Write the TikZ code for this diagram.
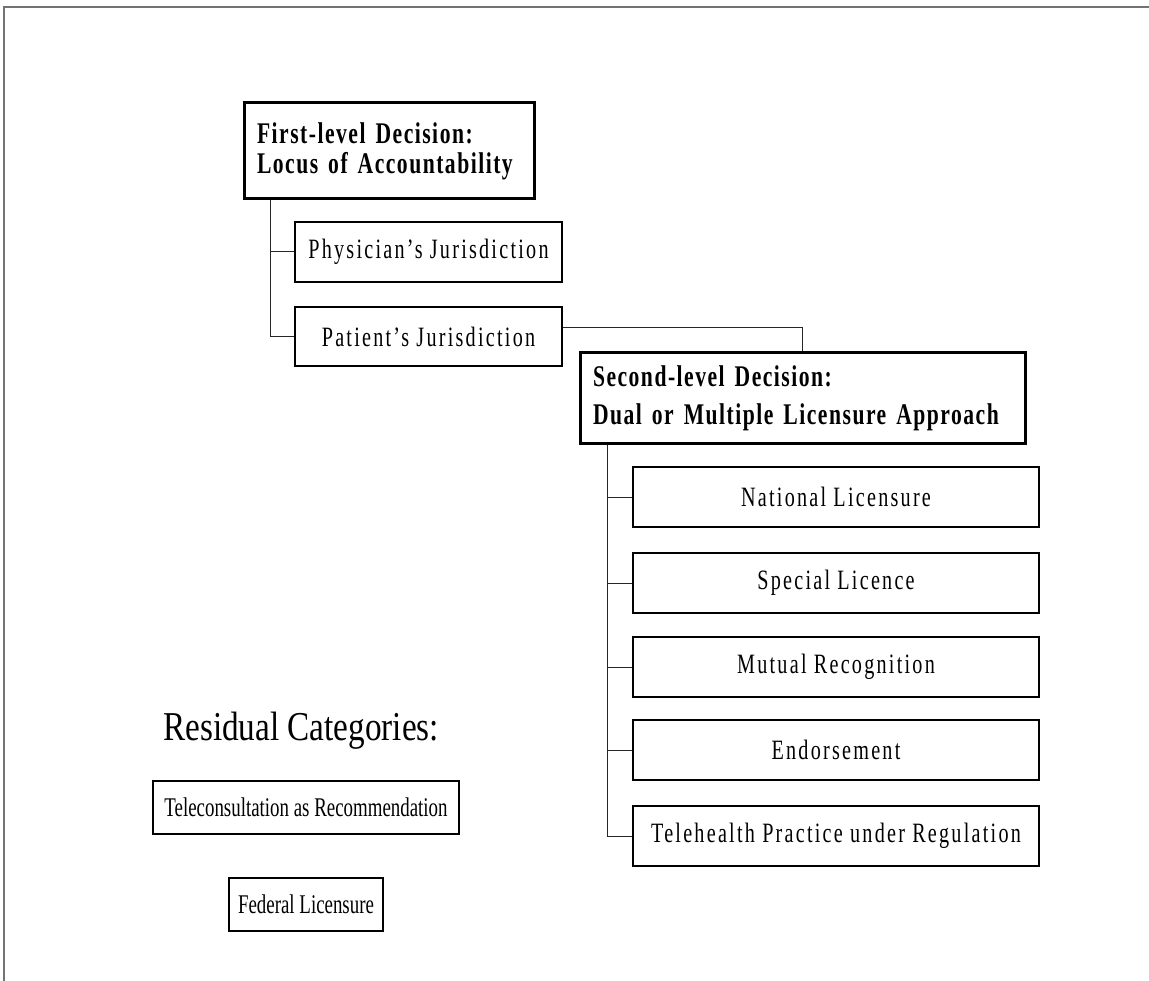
\documentclass[tikz,border=0pt]{standalone}
\usepackage{fontspec}
\setmainfont{Liberation Serif}
\newfontfamily\regfont[FakeStretch=0.72,LetterSpace=8]{Liberation Serif}
\newfontfamily\hdfont[FakeStretch=0.72,LetterSpace=5]{Liberation Serif}
\newfontfamily\resfont[FakeStretch=0.70]{Liberation Serif}
\newfontfamily\titfont[FakeStretch=0.81]{Liberation Serif}
\tikzset{
  decision/.style={draw, line width=3pt, align=left, inner xsep=13pt, inner ysep=0pt},
  option/.style={draw, line width=1.2pt, minimum height=60pt, inner sep=0pt,
    font=\regfont\fontsize{28}{28}\selectfont},
  residual/.style={draw, line width=1.2pt, inner sep=0pt, minimum height=53pt,
    font=\resfont\fontsize{27}{27}\selectfont},
  conn/.style={line width=1pt, draw=black!85},
  frameline/.style={line width=2pt, draw=black!55}
}
\begin{document}
\begin{tikzpicture}[x=1pt,y=-1pt]
\useasboundingbox (0,0) rectangle (1149,981);
\draw[frameline] (4,981) -- (4,7) -- (1149,7);

\node[decision, minimum width=290pt, minimum height=96pt, text width=264pt,
  font=\hdfont\bfseries\fontsize{30}{30}\selectfont] (d1) at (389,151)
  {First-level Decision:\\Locus of Accountability};

\node[option, minimum width=267pt] (phy) at (428.5,252) {Physician’s Jurisdiction};
\node[option, minimum width=267pt, minimum height=59pt] (pat) at (428.5,336.5) {Patient’s Jurisdiction};

\node[decision, minimum width=445pt, minimum height=91pt, text width=419pt,
  font=\hdfont\bfseries\fontsize{30}{38}\selectfont] (d2) at (802.5,398.5)
  {Second-level Decision:\\Dual or Multiple Licensure Approach};

\node[option, minimum width=406pt] (c1) at (836,497) {National Licensure};
\node[option, minimum width=406pt] (c2) at (836,583) {Special Licence};
\node[option, minimum width=406pt] (c3) at (836,667) {Mutual Recognition};
\node[option, minimum width=406pt] (c4) at (836,750) {Endorsement};
\node[option, minimum width=406pt] (c5) at (836,836) {Telehealth Practice under Regulation};

\node[font=\titfont\fontsize{41}{41}\selectfont, inner sep=0pt, anchor=base west] (rt) at (163,740) {Residual Categories:};
\node[residual, minimum width=306pt] (r1) at (306,807.5) {Teleconsultation as Recommendation};
\node[residual, minimum width=154pt] (r2) at (306,904.5) {Federal Licensure};

\coordinate (t1) at ([xshift=28pt]d1.south west);
\draw[conn] (t1) |- (phy.west);
\draw[conn] (t1) |- (pat.west);
\draw[conn] ([yshift=8.5pt]pat.east) -| (d2.north);
\coordinate (t2) at ([xshift=29pt]d2.south west);
\foreach \c in {c1,c2,c3,c4,c5} {\draw[conn] (t2) |- (\c.west);}
\end{tikzpicture}
\end{document}
